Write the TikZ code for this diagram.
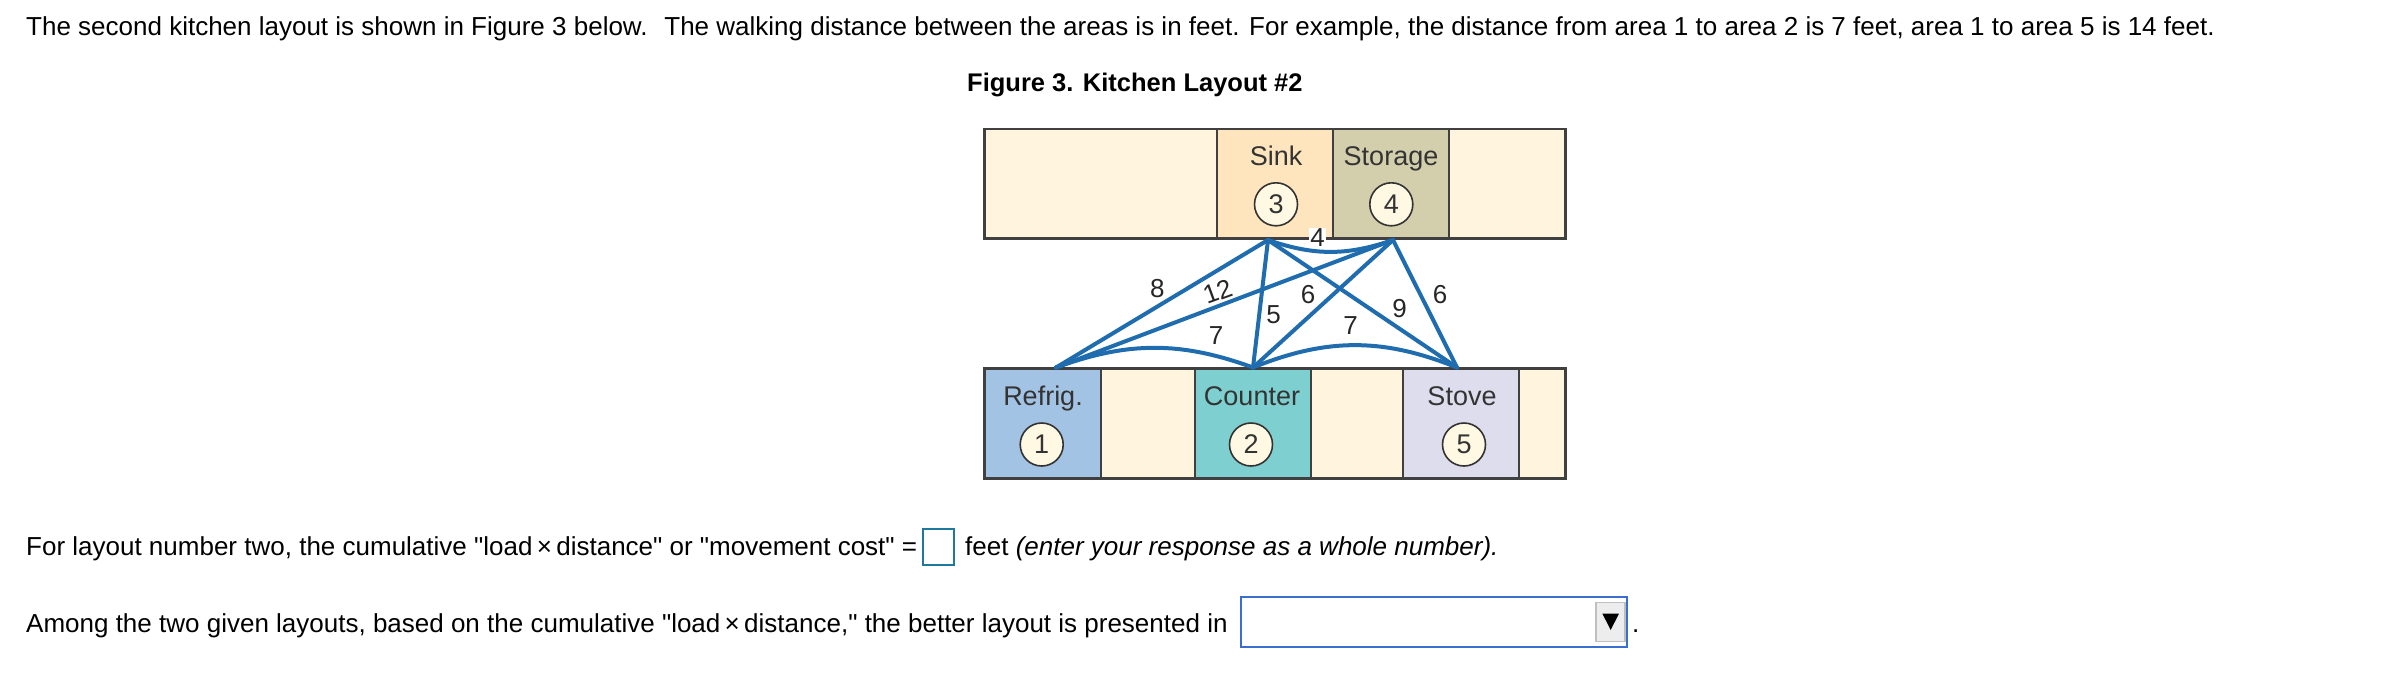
\documentclass[tikz,border=0pt]{standalone}
\usepackage{fontspec}
\setmainfont{Liberation Sans}
\definecolor{cream}{HTML}{FFF5DE}
\definecolor{sinkcol}{HTML}{FFE5BE}
\definecolor{storecol}{HTML}{D3CFAD}
\definecolor{fridgecol}{HTML}{A3C3E4}
\definecolor{countercol}{HTML}{7ECFCF}
\definecolor{stovecol}{HTML}{DEDDEE}
\definecolor{numfill}{HTML}{FFF8E2}
\definecolor{pathblue}{HTML}{1F6DAF}
\definecolor{boxgray}{HTML}{404040}
\definecolor{inputteal}{HTML}{1D7A9C}
\definecolor{selectblue}{HTML}{3A6FD0}

\begin{document}
\begin{tikzpicture}[x=1pt, y=-1pt,
    txt/.style={anchor=base west, inner sep=0, font=\fontsize{26}{31}\selectfont},
    area/.style={anchor=base, inner sep=0, text=black!80, font=\fontsize{27}{32}\selectfont},
    num/.style={circle, draw=black!80, line width=1.6, fill=numfill, minimum size=43, inner sep=0, text=black!80, font=\fontsize{27}{32}\selectfont},
    dist/.style={inner sep=1, text=black!85, font=\fontsize{26}{31}\selectfont},
    walk/.style={draw=pathblue, line width=4, line join=round, line cap=round}]

    \useasboundingbox (0,0) rectangle (2382,678);

    \node[txt] (intro) at (26,35) {The second kitchen layout is shown in Figure 3 below.~ The walking distance between the areas is in feet. For example, the distance from area 1 to area 2 is 7 feet, area 1 to area 5 is 14 feet.};
    \node[txt, font=\fontsize{25.5}{30}\selectfont\bfseries] (title) at (967,91.7) {Figure 3. Kitchen Layout \#2};

    % top row: sink and storage
    \begin{scope}[draw=boxgray, line width=2.2]
        \draw [fill=cream] (984.5,129) rectangle (1565.5,238.5);
        \draw [fill=sinkcol] (1216.7,129) rectangle (1332.7,238.5);
        \draw [fill=storecol] (1332.7,129) rectangle (1449,238.5);
    \end{scope}
    \node[area] (sink) at (1276,165) {Sink};
    \node[area] (storage) at (1391,165) {Storage};
    \node[num] (a3) at (1276,204.3) {3};
    \node[num] (a4) at (1391.3,204.3) {4};

    % bottom row: refrig, counter, stove
    \begin{scope}[draw=boxgray, line width=2.2]
        \draw [fill=cream] (984.5,368.5) rectangle (1565.5,478.5);
        \draw [fill=fridgecol] (984.5,368.5) rectangle (1100.7,478.5);
        \draw [fill=countercol] (1195,368.5) rectangle (1310.7,478.5);
        \draw [fill=stovecol] (1403.3,368.5) rectangle (1519,478.5);
    \end{scope}
    \node[area] (refrig) at (1043,405.5) {Refrig.};
    \node[area] (counter) at (1252,405.5) {Counter};
    \node[area] (stove) at (1462,405.5) {Stove};
    \node[num] (a1) at (1041.7,444.5) {1};
    \node[num] (a2) at (1251,444.5) {2};
    \node[num] (a5) at (1464,444.5) {5};

    % walking paths
    \coordinate (p1) at (1056,367.5);
    \coordinate (p2) at (1253,367.5);
    \coordinate (p3) at (1268,240);
    \coordinate (p4) at (1393,240);
    \coordinate (p5) at (1457,367.5);

    \draw[walk] (p3) -- (p1);
    \draw[walk] (p3) -- (p2);
    \draw[walk] (p3) -- (p5);
    \draw[walk] (p4) -- (p1);
    \draw[walk] (p4) -- (p2);
    \draw[walk] (p4) -- (p5);
    \draw[walk] (p1) to[bend left=20] (p2);
    \draw[walk] (p2) to[bend left=22] (p5);
    \draw[walk] (p3) to[bend right=19] (p4);

    \node[dist, fill=white] (d34) at (1317.7,238) {4};
    \node[dist] (d13) at (1157.4,289) {8};
    \node[dist, rotate=20] (d14) at (1217.5,291.5) {12};
    \node[dist] (d24) at (1308,295) {6};
    \node[dist] (d23) at (1273.5,314.5) {5};
    \node[dist] (d12) at (1216,335.5) {7};
    \node[dist] (d35) at (1399.5,308.5) {9};
    \node[dist] (d25) at (1350.5,326) {7};
    \node[dist] (d45) at (1440,295) {6};

    % questions
    \node[txt] (q1) at (26,555) {For layout number two, the cumulative \textquotedbl load\,×\,distance\textquotedbl{} or \textquotedbl movement cost\textquotedbl{} =};
    \draw[draw=inputteal, line width=2] (922.7,529.3) rectangle (954.3,565) node[midway] (answer) {};
    \node[txt] (q1b) at (965,555) {feet \textit{(enter your response as a whole number).}};

    \node[txt] (q2) at (26,632) {Among the two given layouts, based on the cumulative \textquotedbl load\,×\,distance,\textquotedbl{} the better layout is presented in};
    \draw[draw=selectblue, line width=2] (1240.7,596.7) rectangle (1627.3,646.7) node[midway] (choice) {};
    \draw[draw=black!25, fill=black!7, line width=1.2] (1596,602.7) rectangle (1625,641.7) node[midway] (button) {};
    \fill (1602.3,613.5) -- (1619,613.5) -- (1610.7,630) -- cycle;
    \node[txt] (q2b) at (1632,632) {.};

\end{tikzpicture}
\end{document}
